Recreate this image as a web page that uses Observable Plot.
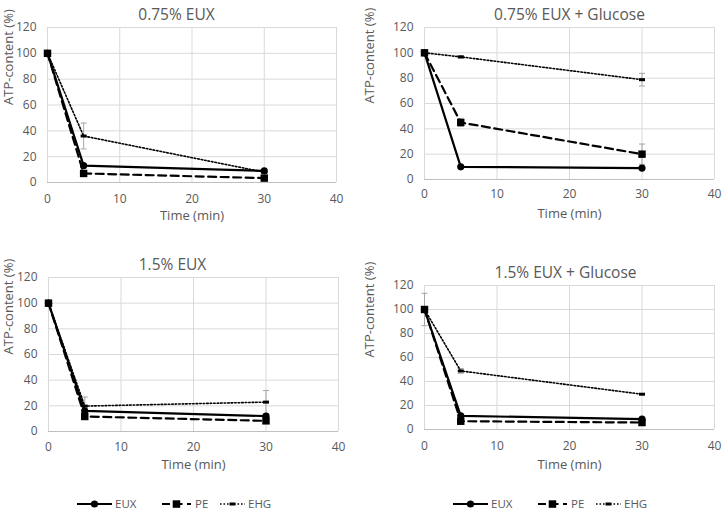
<!DOCTYPE html>
<html>
<head>
<meta charset="utf-8">
<script src="https://cdn.jsdelivr.net/npm/d3@7"></script>
<script src="https://cdn.jsdelivr.net/npm/@observablehq/plot@0.6"></script>
<style>
  body { margin: 0; background: #fff; overflow: hidden; }
  #chart { position: relative; width: 722px; height: 510px; font-family: "Open Sans", sans-serif; }
  #chart svg { position: absolute; overflow: visible; }
</style>
</head>
<body>
<div id="chart"></div>
<script>
// ---- data ----
const times = [0, 5, 30];
const panelTitles = ["0.75% EUX", "0.75% EUX + Glucose", "1.5% EUX", "1.5% EUX + Glucose"];
const seriesNames = ["EUX", "PE", "EHG"];
const euxValues = [[100, 13, 9], [100, 10, 9], [100, 16, 12], [100, 11.4, 8.6]];
const peValues  = [[100, 7, 3.4], [100, 45, 20], [100, 11.7, 8.3], [100, 6.9, 5.8]];
const ehgValues = [[100, 36, 8], [100, 96.8, 78.8], [100, 19.8, 22.9], [100, 48.8, 29.4]];
const euxErrors = [[0, 0, 0], [0, 0, 0], [0, 0, 0], [13.5, 0, 0]];
const peErrors  = [[0, 0, 0], [0, 3, 8], [0, 0, 0], [0, 0, 0]];
const ehgErrors = [[0, 10, 0], [0, 1, 5], [0, 7, 9], [0, 2, 0]];
const xTicks = [0, 10, 20, 30, 40];
const yTicks = [0, 20, 40, 60, 80, 100, 120];
const xLabel = "Time (min)";
const yLabel = "ATP-content (%)";

// ---- layout ----
const layouts = [
  {left: 0,   top: 0,   ml: 47, mr: 25, mt: 27, mb: 50, titleX: 176, xLab: 37, xPad: 12},
  {left: 361, top: 0,   ml: 63, mr: 8,  mt: 27, mb: 53, titleX: 208, xLab: 38, xPad: 10},
  {left: 0,   top: 240, ml: 48, mr: 23, mt: 37, mb: 41, titleX: 172, xLab: 37, xPad: 11},
  {left: 361, top: 240, ml: 63, mr: 8,  mt: 45, mb: 43, titleX: 204, xLab: 39, xPad: 12}
];
const TEXT = "#595959";
const GRID = "#d9d9d9";
const ERR = "#a6a6a6";

const capSymbol = {draw(ctx) { ctx.moveTo(-3, 0); ctx.lineTo(3, 0); }};
const dashSymbol = {draw(ctx) { ctx.moveTo(-3, -1.5); ctx.lineTo(3, -1.5); ctx.lineTo(3, 1.5); ctx.lineTo(-3, 1.5); ctx.closePath(); }};

const allValues = [euxValues, peValues, ehgValues];
const allErrors = [euxErrors, peErrors, ehgErrors];

function panel(i) {
  const L = layouts[i];
  const W = 361, H = 232;
  const rows = [];
  seriesNames.forEach((s, k) => times.forEach((t, j) =>
    rows.push({series: s, time: t, value: allValues[k][i][j], err: allErrors[k][i][j]})));
  const errRows = rows.filter(d => d.err > 0);
  const ser = s => rows.filter(d => d.series === s);
  const svg = Plot.plot({
    width: W, height: H,
    marginLeft: L.ml, marginRight: L.mr, marginTop: L.mt, marginBottom: L.mb,
    style: {fontFamily: "Open Sans, sans-serif", color: TEXT, background: "transparent", overflow: "visible"},
    x: {domain: [0, 40]},
    y: {domain: [0, 120]},
    marks: [
      Plot.gridX(xTicks, {stroke: GRID, strokeOpacity: 1}),
      Plot.gridY(yTicks, {stroke: GRID, strokeOpacity: 1}),
      Plot.ruleY([0], {stroke: "#bfbfbf"}),
      Plot.axisX(xTicks, {tickSize: 0, tickPadding: L.xPad, fontSize: 12, label: null, fill: TEXT}),
      Plot.axisY(yTicks, {tickSize: 0, tickPadding: 11, fontSize: 12, label: null, fill: TEXT}),
      Plot.text([panelTitles[i]], {frameAnchor: "top-left", textAnchor: "middle", dx: L.titleX - L.ml, dy: -19, fontSize: 15.5, fill: TEXT}),
      Plot.text([xLabel], {frameAnchor: "bottom", dy: L.xLab, fontSize: 13, fill: TEXT}),
      Plot.text([yLabel], {frameAnchor: "left", dx: -(L.ml - 8), rotate: -90, fontSize: 13, fill: TEXT}),
      // error bars
      Plot.ruleX(errRows, {x: "time", y1: d => d.value - d.err, y2: d => d.value + d.err, stroke: ERR, strokeWidth: 1}),
      Plot.dot(errRows, {x: "time", y: d => d.value + d.err, symbol: capSymbol, r: 3, stroke: ERR, strokeWidth: 1, fill: "none"}),
      Plot.dot(errRows, {x: "time", y: d => d.value - d.err, symbol: capSymbol, r: 3, stroke: ERR, strokeWidth: 1, fill: "none"}),
      // EUX
      Plot.line(ser("EUX"), {x: "time", y: "value", stroke: "black", strokeWidth: 2.2}),
      Plot.dot(ser("EUX"), {x: "time", y: "value", r: 3.6, fill: "black", symbol: "circle"}),
      // PE
      Plot.line(ser("PE"), {x: "time", y: "value", stroke: "black", strokeWidth: 2.2, strokeDasharray: "8,4.5"}),
      Plot.dot(ser("PE"), {x: "time", y: "value", r: 4.2, fill: "black", symbol: "square"}),
      // EHG
      Plot.line(ser("EHG"), {x: "time", y: "value", stroke: "black", strokeWidth: 1.6, strokeDasharray: "1.6,1.9"}),
      Plot.dot(ser("EHG"), {x: "time", y: "value", r: 3, fill: "black", stroke: "none", symbol: dashSymbol})
    ]
  });
  svg.style.left = L.left + "px";
  svg.style.top = L.top + "px";
  return svg;
}

const chart = document.getElementById("chart");
for (let i = 0; i < 4; i++) chart.appendChild(panel(i));

// ---- legends ----
const legendStarts = [77, 453];
const lg = d3.select(chart).append("svg")
  .attr("width", 722).attr("height", 18)
  .style("left", "0px").style("top", "492px");
legendStarts.forEach(x0 => {
  const g = lg.append("g").attr("transform", `translate(${x0},12)`);
  // EUX
  g.append("line").attr("x1", 0).attr("x2", 35).attr("stroke", "black").attr("stroke-width", 2.2);
  g.append("circle").attr("cx", 17.5).attr("r", 3.6).attr("fill", "black");
  g.append("text").attr("x", 38).attr("dy", "0.35em").text(seriesNames[0]);
  // PE
  g.append("line").attr("x1", 85).attr("x2", 114).attr("stroke", "black").attr("stroke-width", 2.2).attr("stroke-dasharray", "8,4.5");
  g.append("rect").attr("x", 95.7).attr("y", -3.7).attr("width", 7.5).attr("height", 7.5).attr("fill", "black");
  g.append("text").attr("x", 118).attr("dy", "0.35em").text(seriesNames[1]);
  // EHG
  g.append("line").attr("x1", 143).attr("x2", 168).attr("stroke", "black").attr("stroke-width", 1.6).attr("stroke-dasharray", "1.6,1.9");
  g.append("rect").attr("x", 152.5).attr("y", -1.5).attr("width", 6).attr("height", 3).attr("fill", "black");
  g.append("text").attr("x", 171).attr("dy", "0.35em").text(seriesNames[2]);
  g.selectAll("text").attr("font-size", 11.5).attr("fill", TEXT).attr("font-family", "Open Sans, sans-serif");
});
</script>
</body>
</html>
